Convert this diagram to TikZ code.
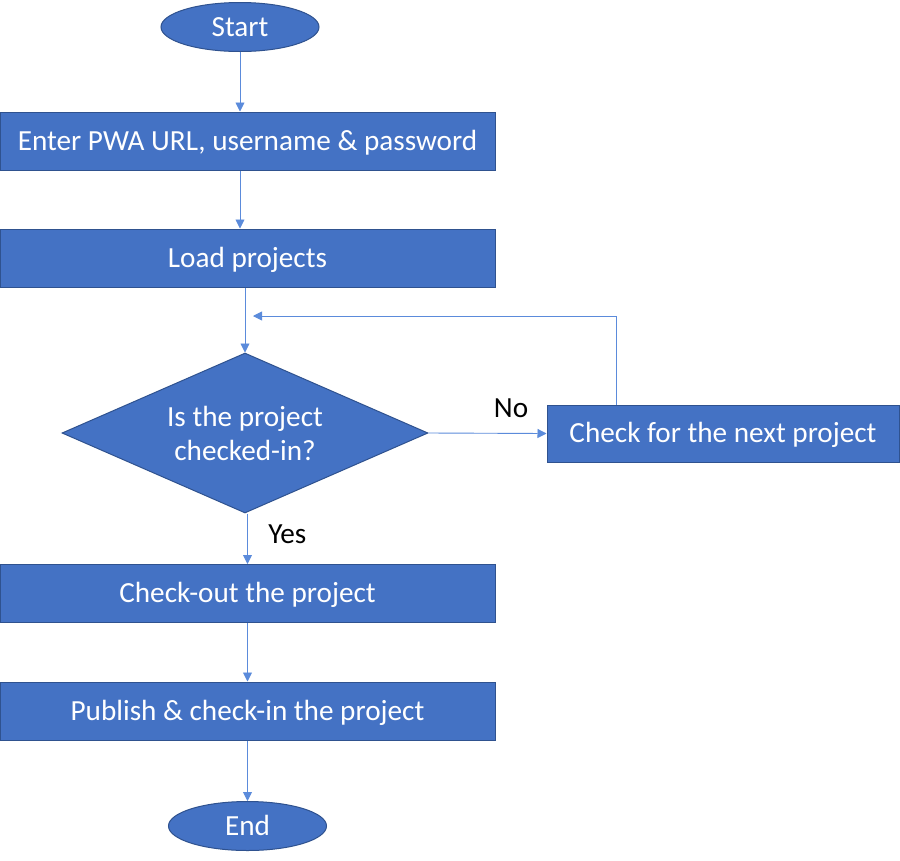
\documentclass[tikz,border=0pt]{standalone}
\usepackage{fontspec}
\setmainfont{Carlito}
\usetikzlibrary{shapes.geometric,arrows.meta}
\definecolor{boxblue}{HTML}{4472C4}
\definecolor{edgeblue}{HTML}{2F528F}
\definecolor{lineblue}{HTML}{5B8BDB}
\begin{document}
\begin{tikzpicture}[x=1pt,y=-1pt,
  every node/.style={font=\fontsize{29.2}{34}\selectfont},
  procbox/.style={rectangle,draw=edgeblue,fill=boxblue,text=white,line width=1pt,
    minimum width=495pt,minimum height=58pt,inner sep=0pt,text height=18.8pt,text depth=0pt},
  termnode/.style={ellipse,draw=edgeblue,fill=boxblue,text=white,line width=1pt,
    minimum width=158pt,minimum height=49pt,inner sep=0pt,text height=18.8pt,text depth=0pt},
  decide/.style={diamond,draw=edgeblue,fill=boxblue,text=white,line width=1pt,
    aspect=2.29,minimum width=366pt,minimum height=160pt,inner sep=0pt,align=center},
  flow/.style={-{Triangle[length=9pt,width=9pt]},draw=lineblue,line width=0.9pt}]
\fill[white] (0,0) rectangle (900,860);
\useasboundingbox (0,0) rectangle (900,860);
% terminals
\node[termnode] (start) at (240,27) {Start};
\node[termnode] (stop) at (247.5,826) {End};
% process boxes
\node[procbox] (enter) at (247.5,141) {Enter PWA URL, username \& password};
\node[procbox] (load) at (247.5,258) {Load projects};
\node[procbox] (checkout) at (247.5,593.5) {Check-out the project};
\node[procbox] (publish) at (247.5,711) {Publish \& check-in the project};
\node[procbox,minimum width=352pt,minimum height=57pt] (next) at (723,433.5) {Check for the next project};
% decision
\node[decide] (ischecked) at (245,433) {Is the project\\checked-in?};
% loop corners
\coordinate (loopup) at (616,316);
\coordinate (loopend) at (253,316);
% connectors
\draw[flow] (start.south) -- (start.south |- enter.north);
\draw[flow] (enter.south -| start) -- (load.north -| start);
\draw[flow] (load.south -| ischecked) -- (ischecked.north);
\draw[flow] (ischecked.east) -- (next.west) node[pos=0.7,above=12pt,text=black] (nolbl) {No};
\draw[flow] (next.north -| loopup) -- (loopup) -- (loopend);
\draw[flow] (ischecked.south -| checkout) -- (checkout.north) node[midway,right=17pt,yshift=5pt,text=black] (yeslbl) {Yes};
\draw[flow] (checkout.south) -- (publish.north);
\draw[flow] (publish.south) -- (stop.north);
\end{tikzpicture}
\end{document}
